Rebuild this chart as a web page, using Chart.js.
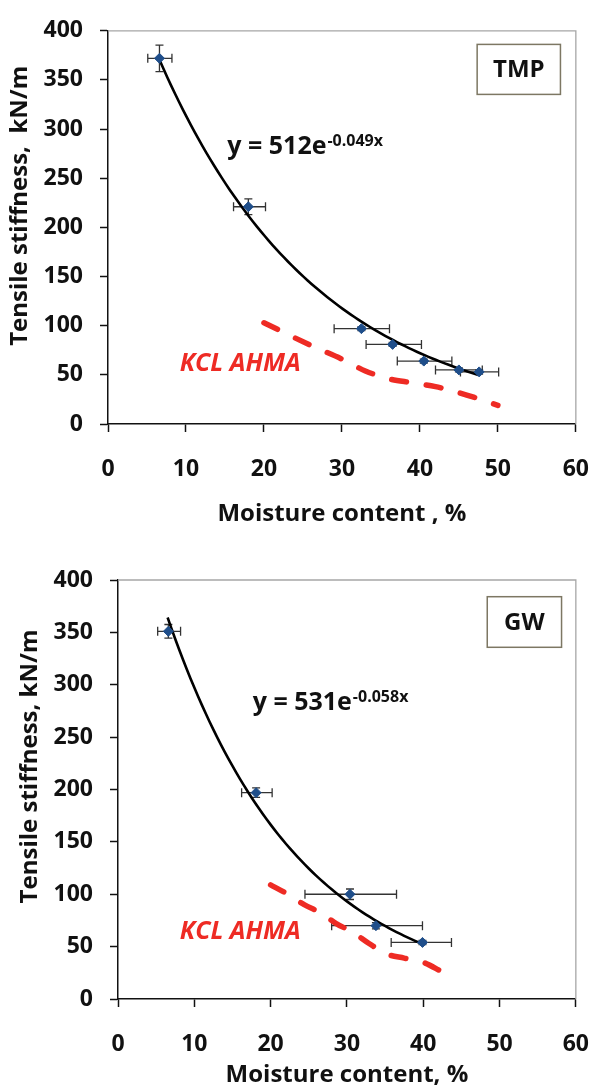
<!DOCTYPE html>
<html>
<head>
<meta charset="utf-8">
<script src="https://cdn.jsdelivr.net/npm/chart.js@4.4.1/dist/chart.umd.min.js"></script>
<style>
  html, body { margin: 0; padding: 0; background: #fff; }
  .wrap { position: absolute; left: 0; width: 613px; }
  #tmpWrap { top: 0; height: 530px; }
  #gwWrap { top: 530px; height: 560px; }
</style>
</head>
<body>
<div class="wrap" id="tmpWrap"><canvas id="tmpChart" width="613" height="530"></canvas></div>
<div class="wrap" id="gwWrap"><canvas id="gwChart" width="613" height="560"></canvas></div>
<script>
// shared axis ticks
const xTicks = [0, 10, 20, 30, 40, 50, 60];
const yTicks = [0, 50, 100, 150, 200, 250, 300, 350, 400];

// TMP: moisture content (%), tensile stiffness (kN/m) and error ranges
const tmpMoisture = [6.6, 18.0, 32.5, 36.5, 40.5, 45.0, 47.6];
const tmpStiffness = [372, 221, 97, 81, 64, 55, 53];
const tmpMoistureLow = [5.1, 16.1, 29.0, 33.1, 37.1, 42.0, 45.2];
const tmpMoistureHigh = [8.2, 20.2, 36.1, 40.2, 44.1, 48.0, 50.1];
const tmpStiffnessErr = [13.5, 8, 2, 2, 2, 2, 2];
// exponential trendline y = a * e^(b x)
const tmpFit = [512, -0.049];
const tmpFitRange = [6.6, 47.5];
// KCL AHMA reference curve
const tmpKclX = [20, 26, 30, 33, 36, 39, 42, 44.5, 47, 50];
const tmpKclY = [103, 80, 66, 54, 46, 42, 38, 33, 27, 19];

// GW
const gwMoisture = [6.6, 18.1, 30.4, 33.8, 39.9];
const gwStiffness = [351, 197, 100, 70, 54];
const gwMoistureLow = [5.2, 16.2, 24.5, 28.0, 35.8];
const gwMoistureHigh = [8.2, 20.2, 36.5, 39.9, 43.7];
const gwStiffnessErr = [6.5, 4.5, 5, 3, 2];
const gwFit = [531, -0.058];
const gwFitRange = [6.5, 40];
const gwKclX = [20, 22, 24.4, 26.6, 28.6, 30.7, 32.9, 35.2, 37.5, 40, 42.2, 44.2];
const gwKclY = [109, 101, 90, 82, 72, 64, 53, 43, 39, 35, 27, 19];

const FONT = "'Open Sans', sans-serif";
const INK = '#111';
Chart.defaults.font.family = FONT;
Chart.defaults.color = INK;

const fitPoints = (fit, range) => {
    const pts = [];
    for (let x = range[0]; x < range[1]; x += 0.5) {
        pts.push({ x: x, y: fit[0] * Math.exp(fit[1] * x) });
    }
    pts.push({ x: range[1], y: fit[0] * Math.exp(fit[1] * range[1]) });
    return pts;
};

const zip = (xs, ys) => xs.map((x, i) => ({ x: x, y: ys[i] }));

// frame, error bars, y title and the text notes
const extras = {
    id: 'extras',
    beforeDatasetsDraw(chart, args, o) {
        const { ctx, chartArea: a, scales: { x, y } } = chart;
        ctx.save();
        ctx.strokeStyle = '#a6a6a6';
        ctx.lineWidth = 1.3;
        ctx.beginPath();
        ctx.moveTo(a.left, a.top);
        ctx.lineTo(a.right, a.top);
        ctx.lineTo(a.right, a.bottom);
        ctx.stroke();

        // error bars
        ctx.strokeStyle = '#333';
        ctx.lineWidth = 1.3;
        o.xs.forEach((xv, i) => {
            const px = x.getPixelForValue(xv);
            const py = y.getPixelForValue(o.ys[i]);
            const x0 = x.getPixelForValue(o.lo[i]);
            const x1 = x.getPixelForValue(o.hi[i]);
            const y0 = y.getPixelForValue(o.ys[i] - o.yErr[i]);
            const y1 = y.getPixelForValue(o.ys[i] + o.yErr[i]);
            ctx.beginPath();
            ctx.moveTo(x0, py); ctx.lineTo(x1, py);
            ctx.moveTo(x0, py - 4.5); ctx.lineTo(x0, py + 4.5);
            ctx.moveTo(x1, py - 4.5); ctx.lineTo(x1, py + 4.5);
            ctx.moveTo(px, y0); ctx.lineTo(px, y1);
            ctx.moveTo(px - 4, y0); ctx.lineTo(px + 4, y0);
            ctx.moveTo(px - 4, y1); ctx.lineTo(px + 4, y1);
            ctx.stroke();
        });
        ctx.restore();
    },
    afterDraw(chart, args, o) {
        const { ctx, chartArea: a, scales: { x, y } } = chart;
        ctx.save();

        // y axis title
        ctx.translate(a.left - 88, a.top + 0.445 * (a.bottom - a.top));
        ctx.rotate(-Math.PI / 2);
        ctx.font = `bold 24px ${FONT}`;
        ctx.fillStyle = INK;
        ctx.textAlign = 'center';
        ctx.textBaseline = 'middle';
        ctx.fillText(o.yTitle, 0, 0);
        ctx.setTransform(1, 0, 0, 1, 0, 0);

        // trendline equation
        const ex = x.getPixelForValue(o.eqAt[0]);
        const ey = y.getPixelForValue(o.eqAt[1]);
        ctx.textAlign = 'left';
        ctx.textBaseline = 'alphabetic';
        ctx.font = `bold 25px ${FONT}`;
        const main = `y = ${o.fit[0]}e`;
        ctx.fillText(main, ex, ey);
        const w = ctx.measureText(main).width;
        ctx.font = `bold 16px ${FONT}`;
        ctx.fillText(`${o.fit[1]}x`, ex + w + 1, ey - 7.5);

        // reference curve label
        ctx.fillStyle = '#ee2b24';
        ctx.font = `italic bold 25px ${FONT}`;
        ctx.fillText('KCL AHMA', x.getPixelForValue(o.kclAt[0]), y.getPixelForValue(o.kclAt[1]));

        // pulp label box
        const bx = a.right - o.box[0] - o.box[2];
        const by = a.top + o.box[1];
        ctx.fillStyle = '#fff';
        ctx.fillRect(bx, by, o.box[2], o.box[3]);
        ctx.strokeStyle = '#7d7763';
        ctx.lineWidth = 1.5;
        ctx.strokeRect(bx, by, o.box[2], o.box[3]);
        ctx.fillStyle = INK;
        ctx.font = `bold 24px ${FONT}`;
        ctx.textAlign = 'center';
        ctx.textBaseline = 'middle';
        ctx.fillText(o.label, bx + o.box[2] / 2, by + o.box[3] / 2 + 1);
        ctx.restore();
    }
};

const axisBase = (ticks, min, max) => ({
    type: 'linear',
    min: min,
    max: max,
    afterBuildTicks: axis => { axis.ticks = ticks.map(v => ({ value: v })); },
    grid: { drawOnChartArea: false, drawTicks: true, tickLength: 8, tickColor: INK, tickWidth: 1.5 },
    border: { display: true, color: INK, width: 1.5 }
});

const makeChart = (id, cfg) => new Chart(document.getElementById(id), {
    type: 'scatter',
    data: {
        datasets: [{
            data: cfg.points,
            pointStyle: 'rectRot',
            pointRadius: 5,
            backgroundColor: '#1f4e8a',
            borderColor: '#1f4e8a',
            borderWidth: 1
        }, {
            data: cfg.fitLine,
            showLine: true,
            pointRadius: 0,
            borderColor: '#000',
            borderWidth: 2.6,
            tension: 0
        }, {
            data: cfg.kcl,
            showLine: true,
            pointRadius: 0,
            borderColor: '#ee2b24',
            borderWidth: 5.5,
            borderDash: [15, 20],
            borderCapStyle: 'round',
            cubicInterpolationMode: 'monotone'
        }]
    },
    options: {
        responsive: false,
        animation: false,
        layout: { padding: cfg.padding },
        plugins: {
            legend: { display: false },
            tooltip: { enabled: false },
            extras: cfg.extras
        },
        scales: {
            x: Object.assign(axisBase(xTicks, 0, 60), {
                afterFit: axis => { axis.height = cfg.xHeight; },
                ticks: { padding: 24, font: { size: 23, weight: 'bold' }, color: INK },
                title: {
                    display: true,
                    text: cfg.xTitle,
                    color: INK,
                    font: { size: 24, weight: 'bold' },
                    padding: { top: 0, bottom: cfg.xTitlePad }
                }
            }),
            y: Object.assign(axisBase(yTicks, 0, 400), {
                afterFit: axis => { axis.width = cfg.yWidth; },
                ticks: { padding: 17, font: { size: 23, weight: 'bold' }, color: INK }
            })
        }
    },
    plugins: [extras]
});

makeChart('tmpChart', {
    points: zip(tmpMoisture, tmpStiffness),
    fitLine: fitPoints(tmpFit, tmpFitRange),
    kcl: zip(tmpKclX, tmpKclY),
    padding: { left: 0, top: 15, right: 15, bottom: 0 },
    yWidth: 108,
    xHeight: 106,
    xTitle: 'Moisture content , %',
    xTitlePad: 1,
    extras: {
        xs: tmpMoisture, ys: tmpStiffness, lo: tmpMoistureLow, hi: tmpMoistureHigh, yErr: tmpStiffnessErr,
        yTitle: 'Tensile stiffness,  kN/m',
        fit: tmpFit,
        eqAt: [15.3, 275],
        kclAt: [9.2, 53.7],
        box: [15.4, 13.6, 83.3, 50],
        label: 'TMP'
    }
});

makeChart('gwChart', {
    points: zip(gwMoisture, gwStiffness),
    fitLine: fitPoints(gwFit, gwFitRange),
    kcl: zip(gwKclX, gwKclY),
    padding: { left: 0, top: 50, right: 28, bottom: 0 },
    yWidth: 118,
    xHeight: 91,
    xTitle: 'Moisture content, %',
    xTitlePad: 0,
    extras: {
        xs: gwMoisture, ys: gwStiffness, lo: gwMoistureLow, hi: gwMoistureHigh, yErr: gwStiffnessErr,
        yTitle: 'Tensile stiffness, kN/m',
        fit: gwFit,
        eqAt: [17.65, 276],
        kclAt: [8.1, 57.3],
        box: [14.3, 16.7, 74.3, 50.6],
        label: 'GW'
    }
});
</script>
</body>
</html>
